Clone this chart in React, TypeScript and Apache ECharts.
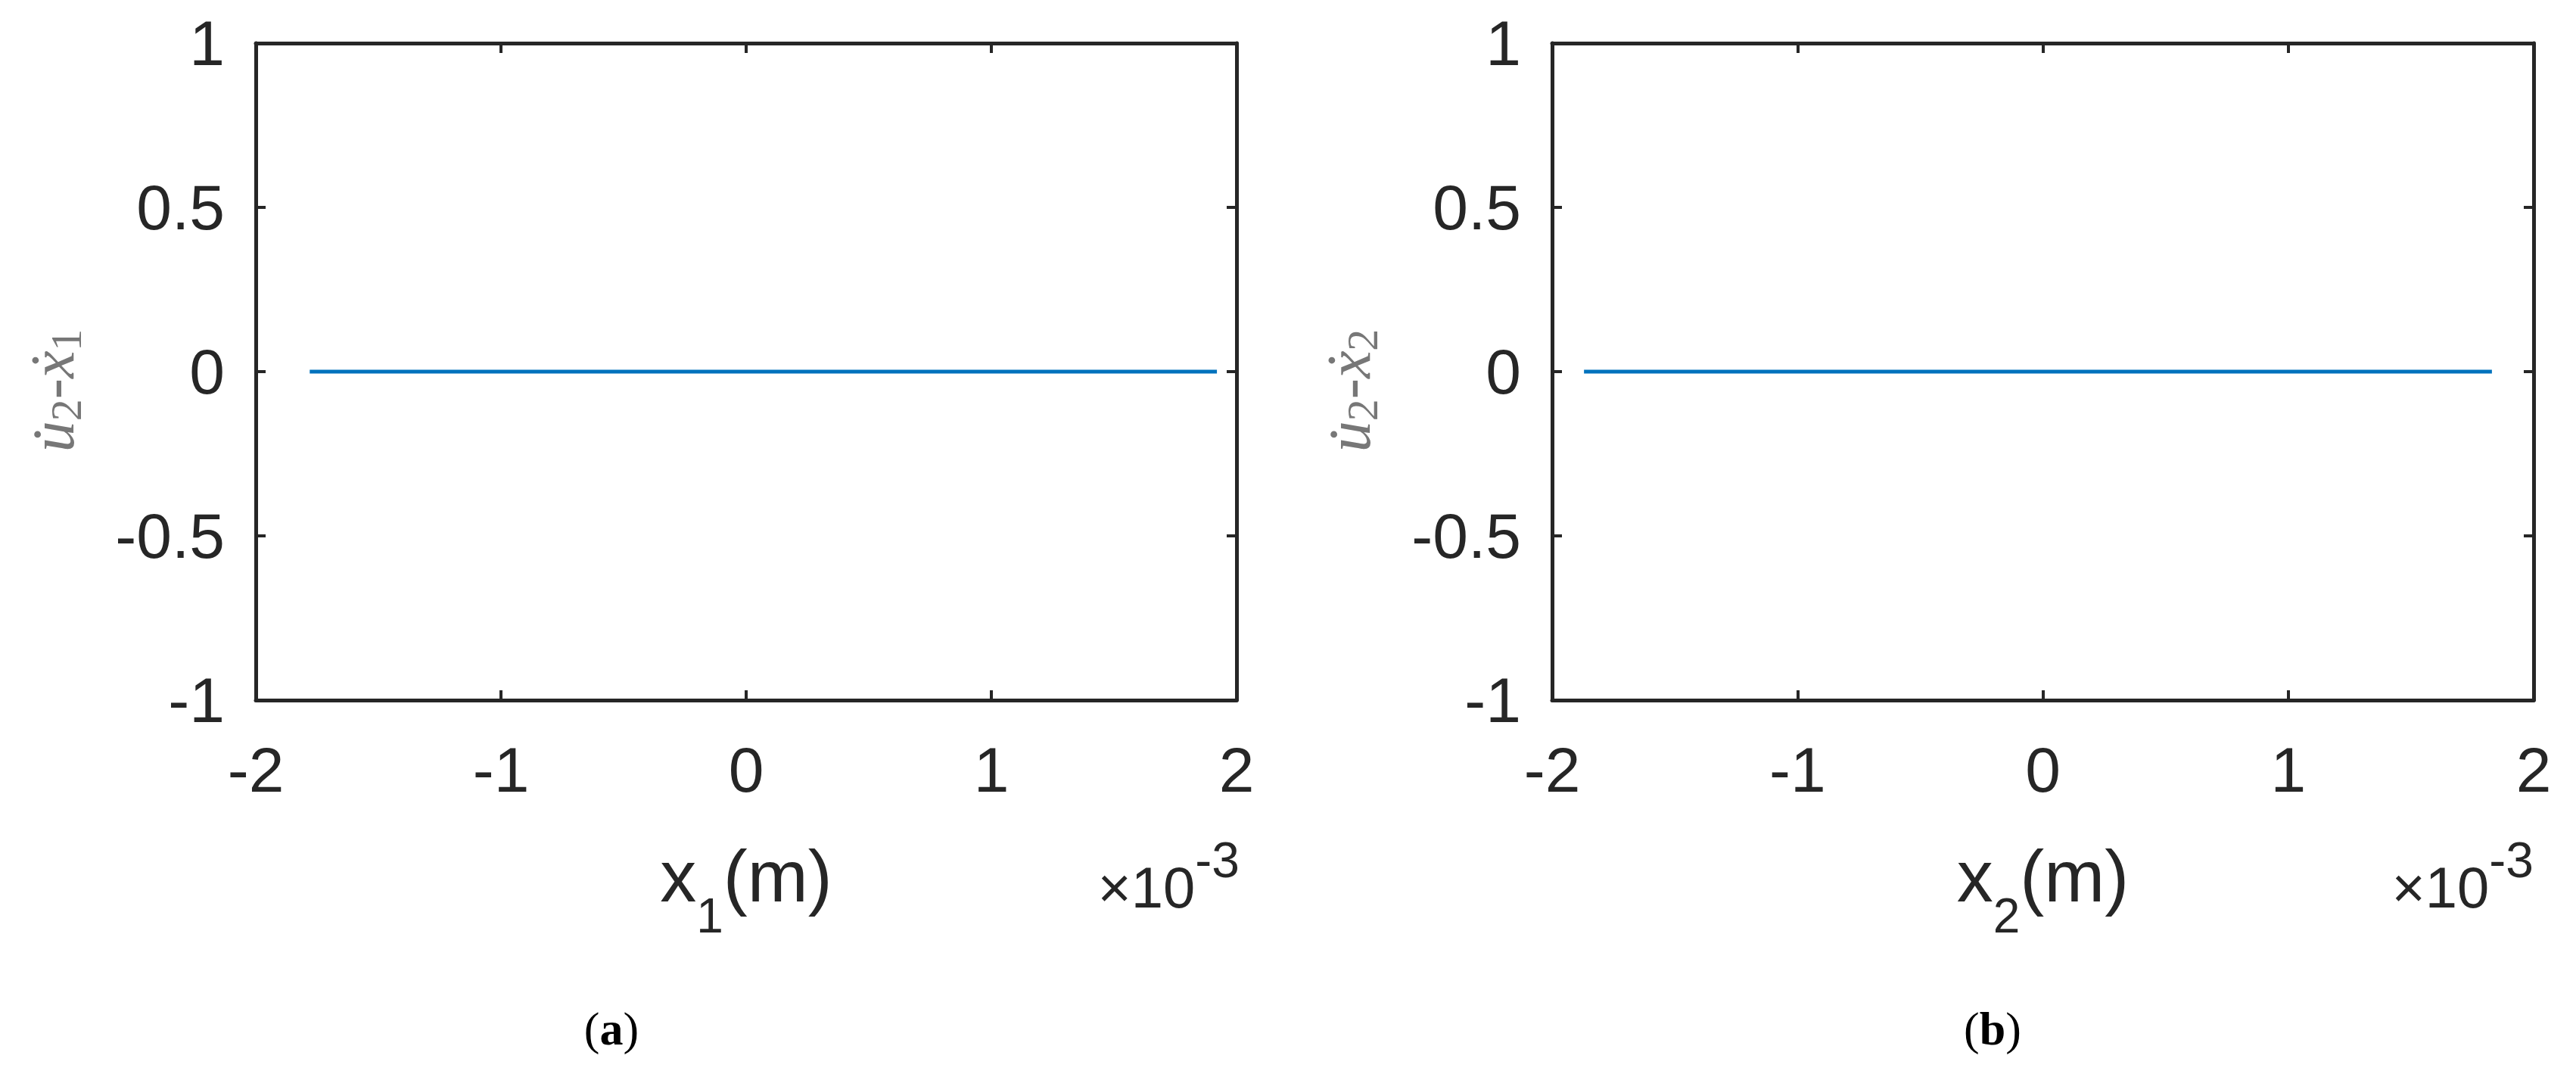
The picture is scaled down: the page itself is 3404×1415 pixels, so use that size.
import React, { useEffect, useRef } from "react";
import * as echarts from "echarts";

// x values are in units of 10^-3 m (axis shows ×10⁻³)
const X_MIN = -2;
const X_MAX = 2;
const X_STEP = 1;
const Y_MIN = -1;
const Y_MAX = 1;
const Y_STEP = 0.5;

const panelA_x = [-1.78, 1.92];
const panelA_y = [0, 0];
const panelB_x = [-1.87, 1.83];
const panelB_y = [0, 0];

const captions = ["a", "b"];
const xSubs = ["1", "2"];
const ySubs = ["1", "2"];

const AX = "#262626";
const LINE = "#0072BD";
const YLAB = "#777777";
const SANS = "Liberation Sans, Arial, Helvetica, sans-serif";
const SERIF = "Liberation Serif, Times New Roman, serif";

function pairs(xs: number[], ys: number[]) {
  return xs.map((x, i) => [x, ys[i]]);
}

function xAxisPair(gridIndex: number, sub: string) {
  const common = {
    type: "value" as const,
    gridIndex,
    min: X_MIN,
    max: X_MAX,
    interval: X_STEP,
    splitLine: { show: false },
    axisLine: { show: true, onZero: false, lineStyle: { color: AX, width: 5 } },
    axisTick: { show: true, inside: true, length: 13, lineStyle: { color: AX, width: 4 } },
  };
  return [
    {
      ...common,
      position: "bottom",
      axisLabel: {
        show: true,
        margin: 50,
        fontSize: 84,
        fontFamily: SANS,
        color: AX,
        showMinLabel: true,
        showMaxLabel: true,
        formatter: (v: number) => String(Math.round(v)),
      },
      name: `{m|x}{s|${sub}}{m|(m)}`,
      nameLocation: "middle",
      nameGap: 147,
      nameTextStyle: {
        color: AX,
        fontFamily: SANS,
        fontSize: 96,
        rich: {
          m: { fontSize: 96, fontFamily: SANS, color: AX },
          s: { fontSize: 64, fontFamily: SANS, color: AX, padding: [106, 0, 0, 0] },
        },
      },
    },
    { ...common, position: "top", axisLabel: { show: false } },
  ];
}

function yAxisPair(gridIndex: number, sub: string) {
  const common = {
    type: "value" as const,
    gridIndex,
    min: Y_MIN,
    max: Y_MAX,
    interval: Y_STEP,
    splitLine: { show: false },
    axisLine: { show: true, onZero: false, lineStyle: { color: AX, width: 5 } },
    axisTick: { show: true, inside: true, length: 13, lineStyle: { color: AX, width: 4 } },
  };
  return [
    {
      ...common,
      position: "left",
      axisLabel: {
        show: true,
        margin: 41,
        fontSize: 84,
        fontFamily: SANS,
        color: AX,
        showMinLabel: true,
        showMaxLabel: true,
      },
      name: `{m|u\u0307}{s|2}{m|-\u1E8B}{e|${sub}}`,
      nameLocation: "middle",
      nameRotate: 90,
      nameGap: 222,
      nameTextStyle: {
        color: YLAB,
        fontFamily: SERIF,
        fontSize: 82,
        rich: {
          m: { fontSize: 82, fontFamily: SERIF, fontStyle: "italic", color: YLAB },
          s: { fontSize: 58, fontFamily: SERIF, color: YLAB, padding: [36, 0, 0, 0] },
          e: { fontSize: 58, fontFamily: SERIF, color: YLAB, padding: [36, 50, 0, 0] },
        },
      },
    },
    { ...common, position: "right", axisLabel: { show: false } },
  ];
}

function exponentLabel(right: number) {
  return {
    type: "text",
    style: {
      text: "{a|\u00D710}{b|-3}",
      x: right,
      y: 1172,
      textAlign: "right",
      textVerticalAlign: "middle",
      fill: AX,
      rich: {
        a: { fontSize: 76, fontFamily: SANS, fill: AX, color: AX },
        b: { fontSize: 66, fontFamily: SANS, fill: AX, color: AX, padding: [0, 0, 72, 0] },
      },
    },
  } as any;
}

function captionLabel(letter: string, cx: number) {
  return {
    type: "text",
    style: {
      text: `{p|(}{b|${letter}}{p|)}`,
      x: cx,
      y: 1359,
      textAlign: "center",
      textVerticalAlign: "middle",
      fill: "#000",
      rich: {
        p: { fontSize: 62, fontFamily: SERIF, color: "#000", fill: "#000" },
        b: { fontSize: 62, fontFamily: SERIF, fontWeight: "bold", color: "#000", fill: "#000" },
      },
    },
  } as any;
}

export default function App() {
  const ref = useRef<HTMLDivElement>(null);

  useEffect(() => {
    document.body.style.margin = "0";
    if (!ref.current) return;
    const chart = echarts.init(ref.current, undefined, { renderer: "svg" });
    const [xa0, xa1] = xAxisPair(0, xSubs[0]);
    const [xb0, xb1] = xAxisPair(1, xSubs[1]);
    const [ya0, ya1] = yAxisPair(0, ySubs[0]);
    const [yb0, yb1] = yAxisPair(1, ySubs[1]);

    chart.setOption({
      animation: false,
      backgroundColor: "#ffffff",
      grid: [
        { left: 338, top: 57, width: 1296, height: 868, containLabel: false },
        { left: 2051, top: 57, width: 1297, height: 868, containLabel: false },
      ],
      xAxis: [xa0, xa1, xb0, xb1],
      yAxis: [ya0, ya1, yb0, yb1],
      series: [
        {
          type: "line",
          xAxisIndex: 0,
          yAxisIndex: 0,
          data: pairs(panelA_x, panelA_y),
          showSymbol: false,
          symbol: "none",
          lineStyle: { color: LINE, width: 5 },
        },
        {
          type: "line",
          xAxisIndex: 2,
          yAxisIndex: 2,
          data: pairs(panelB_x, panelB_y),
          showSymbol: false,
          symbol: "none",
          lineStyle: { color: LINE, width: 5 },
        },
      ],
      graphic: [
        exponentLabel(1638),
        exponentLabel(3348),
        captionLabel(captions[0], 808),
        captionLabel(captions[1], 2633),
      ],
    });
    return () => chart.dispose();
  }, []);

  return (
    <div
      ref={ref}
      style={{ position: "absolute", left: 0, top: 0, width: 3404, height: 1415, background: "#fff" }}
    />
  );
}
